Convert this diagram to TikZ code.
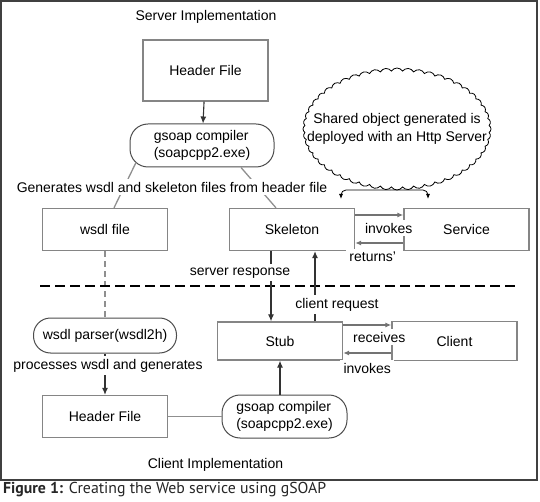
\documentclass[tikz,border=0pt]{standalone}
\usepackage{fontspec}
\setmainfont{Liberation Sans}
\newfontfamily\capfont{PT Sans}
\usetikzlibrary{arrows.meta,shapes.symbols}
\definecolor{edgegray}{gray}{0.52}
\definecolor{linegray}{gray}{0.45}
\tikzset{%
  >={Latex[width=6pt,length=7pt]},
  % Specifications for style of nodes:
         base/.style = {rectangle, draw=edgegray, line width=1.3pt,
                        minimum width=125pt, minimum height=42pt,
                        text centered},
     compiler/.style = {base, rounded corners=18pt, draw=black!70,
                        line width=1pt, align=left, minimum height=43pt},
       bubble/.style = {cloud, cloud puffs=52, cloud puff arc=115,
                        cloud ignores aspect, draw=black, line width=0.8pt,
                        minimum width=188pt, minimum height=122pt},
  % Specifications for style of lines:
     darkline/.style = {draw=black!80, line width=1.1pt},
     softline/.style = {draw=linegray!80, line width=1.3pt},
    grayarrow/.style = {draw=linegray, line width=1.2pt,
                        -{Latex[width=5pt,length=6pt]}},
}

\begin{document}
\begin{tikzpicture}[x=1pt, y=-1pt, node distance=80pt,
    every node/.style={fill=white, font=\fontsize{14pt}{17.5pt}\selectfont}]
  \useasboundingbox (0,0) rectangle (540,502);
  \draw[line width=1.3pt, black!75] (1,1) rectangle (537,480);
  % Specification of nodes (position, etc.)
  \node (serverTitle)            at (206,17)   {Server Implementation};
  \node (hdrTop)      [base, minimum height=61pt] at (205.5,70.5) {Header File};
  \node (gsoapTop)    [compiler, below of=hdrTop, node distance=75pt,
                       xshift=-3.5pt, minimum width=144pt]
                                         {gsoap compiler\\(soapcpp2.exe)};
  \node (wsdlFile)    [base, below of=gsoapTop, node distance=84pt,
                       xshift=-97pt]                        {wsdl file};
  \node (skeleton)    [base, right of=wsdlFile, node distance=187pt]
                                                            {Skeleton};
  \node (service)     [base, right of=skeleton, node distance=174.5pt]
                                                            {Service};
  \node (stub)        [base, below of=skeleton, node distance=111.5pt,
                       xshift=-12pt, minimum height=38pt]   {Stub};
  \node (client)      [base, right of=stub, node distance=174.5pt,
                       minimum height=39pt]                 {Client};
  \node (wsdlParser)  [compiler, below of=wsdlFile, node distance=106pt,
                       minimum width=143pt, minimum height=35pt,
                       rounded corners=17pt]         {wsdl parser(wsdl2h)};
  \node (hdrBottom)   [base, below of=wsdlParser, node distance=81pt]
                                                            {Header File};
  \node (gsoapBottom) [compiler, right of=hdrBottom, node distance=179.5pt]
                                         {gsoap compiler\\(soapcpp2.exe)};
  \node (clientTitle)            at (215.5,465) {Client Implementation};
  \node (sharedCloud) [bubble]   at (397,129)   {};
  \node (cloudText)   [fill=none, align=center] at (sharedCloud)
                   {Shared object generated is\\deployed with an Http Server};
  \node (figCaption)  [anchor=west, inner sep=0pt, text=black!85,
                       font=\capfont\fontsize{15.8pt}{18pt}\selectfont]
                       at (3,490)
                       {\textbf{Figure 1:} Creating the Web service using gSOAP};
  \coordinate (cloudFoot) at (390,190);
  \coordinate (skelMark)  at (341,199);
  \coordinate (servMark)  at (428,199);
  \coordinate (sepLeft)   at (40,286);
  \coordinate (sepRight)  at (517,286);
  \coordinate (respFoot)  at ([xshift=-9pt]stub.north);
  \coordinate (respHead)  at (respFoot |- skeleton.south);
  \coordinate (reqFoot)   at ([xshift=35pt]stub.north);
  \coordinate (reqHead)   at (reqFoot |- skeleton.south);
  % Specification of lines between nodes specified above
  \draw[->, darkline] (hdrTop) -- (gsoapTop);
  \draw[softline] ([xshift=-66pt,yshift=5pt]gsoapTop.south)
                  -- ([xshift=9pt]wsdlFile.north);
  \draw[softline] ([xshift=39pt]gsoapTop.south)
                  -- ([xshift=-16pt]skeleton.north);
  \node (genText) at (172,187)
                  {Generates wsdl and skeleton files from header file};
  \draw[->, line width=0.8pt, rounded corners=5pt,
        >={Latex[width=4pt,length=5pt]}] (cloudFoot) -| (skelMark);
  \draw[->, line width=0.8pt, rounded corners=5pt,
        >={Latex[width=4pt,length=5pt]}] (cloudFoot) -| (servMark);
  \draw[grayarrow] ([yshift=14.5pt]skeleton.east)
       -- node[xshift=9.5pt, yshift=-13pt] {invokes}
       ([yshift=14.5pt]service.west);
  \draw[grayarrow] ([yshift=-13.5pt]service.west)
       -- node[xshift=-6.5pt, yshift=-14pt] {returns'}
       ([yshift=-13.5pt]skeleton.east);
  \draw[softline, dash pattern=on 6pt off 4pt] (wsdlFile) -- (wsdlParser);
  \draw[black, line width=1.6pt, dash pattern=on 10pt off 5pt]
       (sepLeft) -- (sepRight);
  \draw[->, darkline] (respHead) -- node[pos=.31, xshift=-31pt]
                                    {server response} (respFoot);
  \draw[->, darkline] (reqFoot) -- node[pos=.24, xshift=22pt]
                                   {client request} (reqHead);
  \draw[grayarrow] ([yshift=16pt]stub.east)
       -- node[xshift=12pt, yshift=-12pt] {receives}
       ([yshift=16pt]client.west);
  \draw[grayarrow] ([yshift=-12pt]client.west)
       -- node[yshift=-15pt] {invokes}
       ([yshift=-12pt]stub.east);
  \draw[->, darkline] (wsdlParser) -- node[pos=.29, xshift=3pt]
                      {processes wsdl and generates} (hdrBottom);
  \draw[softline] (hdrBottom) -- (gsoapBottom);
  \draw[->, darkline] (stub.south |- gsoapBottom.north) -- (stub.south);
\end{tikzpicture}
\end{document}
